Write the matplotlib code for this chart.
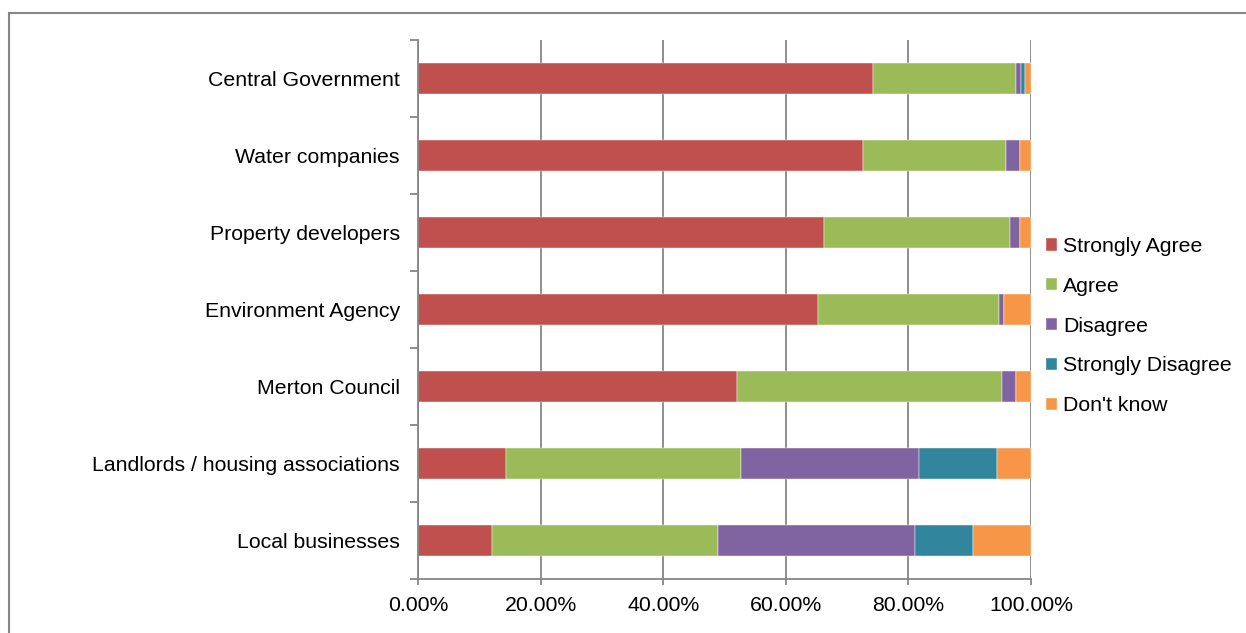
import numpy as np
import matplotlib
matplotlib.use("Agg")
import matplotlib.pyplot as plt
from matplotlib.patches import Rectangle
from matplotlib.ticker import PercentFormatter, FixedLocator

plt.rcParams["font.family"] = ["Liberation Sans", "DejaVu Sans"]

# Groups, top to bottom
groups = ["Central Government", "Water companies", "Property developers",
          "Environment Agency", "Merton Council",
          "Landlords / housing associations", "Local businesses"]

# Share of responses (%)
strongly_agree = [74.3, 72.6, 66.3, 65.3, 52.0, 14.4, 12.1]
agree = [23.2, 23.3, 30.3, 29.5, 43.2, 38.3, 36.9]
disagree = [0.8, 2.3, 1.6, 0.8, 2.3, 29.0, 32.1]
strongly_disagree = [0.8, 0.0, 0.0, 0.0, 0.0, 12.8, 9.4]
dont_know = [0.9, 1.8, 1.8, 4.4, 2.5, 5.5, 9.5]

series = [("Strongly Agree", strongly_agree, "#C0504D"),
          ("Agree", agree, "#9BBB59"),
          ("Disagree", disagree, "#8064A2"),
          ("Strongly Disagree", strongly_disagree, "#31859C"),
          ("Don't know", dont_know, "#F79646")]

W, H = 1246, 633
fig = plt.figure(figsize=(W / 100, H / 100), dpi=100)
ax = fig.add_axes([418 / W, 1 - 579 / H, (1031 - 418) / W, (579 - 40) / H])

grey = "#868686"
fs = 15.3
y = np.arange(len(groups))
left = np.zeros(len(groups))
for name, vals, col in series:
    vals = np.array(vals)
    ax.barh(y, vals, left=left, height=0.4, color=col, label=name,
            edgecolor="white", linewidth=0.3)
    left += vals

ax.set_xlim(0, 100)
ax.set_ylim(len(groups) - 0.5, -0.5)
ax.set_xticks(np.arange(0, 101, 20))
ax.xaxis.set_major_formatter(PercentFormatter(xmax=100, decimals=2))
ax.set_yticks(y)
ax.set_yticklabels(groups)
ax.yaxis.set_minor_locator(FixedLocator(np.arange(-0.5, len(groups), 1)))

ax.grid(axis="x", color=grey, linewidth=1.3)
ax.set_axisbelow(True)
for s in ["top", "right"]:
    ax.spines[s].set_visible(False)
for s in ["left", "bottom"]:
    ax.spines[s].set_color(grey)
    ax.spines[s].set_linewidth(1.3)

ax.tick_params(axis="y", which="major", length=0, pad=13, labelsize=fs)
ax.tick_params(axis="y", which="minor", length=6, width=1.3, color=grey)
ax.tick_params(axis="x", length=4, width=1.3, color=grey, pad=8, labelsize=fs)

leg = ax.legend(loc="upper left", bbox_to_anchor=(1046 / W, 1 - 237 / H),
                bbox_transform=fig.transFigure, frameon=False, fontsize=fs,
                handlelength=0.5, handleheight=0.5, handletextpad=0.3,
                labelspacing=0.98, borderpad=0, borderaxespad=0)

fig.patches.append(Rectangle((9 / W, -0.1), 2, 1.1 - 13 / H, fill=False,
                             edgecolor=grey, linewidth=1.5,
                             transform=fig.transFigure, figure=fig))

fig.savefig("out.png", dpi=100)
